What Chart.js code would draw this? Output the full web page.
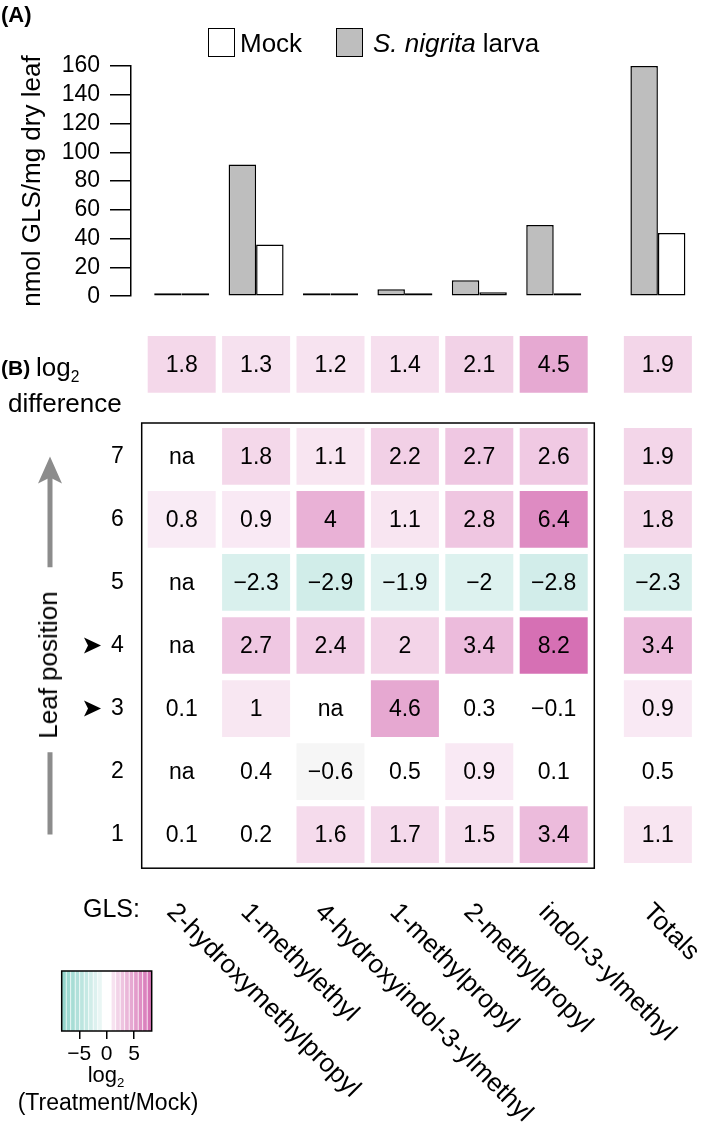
<!DOCTYPE html>
<html lang="en">
<head>
<meta charset="UTF-8">
<title>GLS after S. nigrita feeding</title>
<script src="https://cdn.jsdelivr.net/npm/chart.js"></script>
<style>
    body {
        margin: 0;
        background: #fff;
        font-family: 'Liberation Sans', Arial, Helvetica, sans-serif;
        color: #000;
    }
    #fig { position: relative; width: 709px; height: 1132px; overflow: hidden; }
    canvas { position: absolute; left: 0; }
    .t { position: absolute; white-space: nowrap; line-height: 1; }
    .l { transform: translateY(-50%); }
    .r { transform: translate(-100%, -50%); }
    .c { transform: translate(-50%, -50%); }
    .b { font-weight: bold; }
    .key { position: absolute; width: 25px; height: 27px; border: 1.5px solid #000; }
    .xl { position: absolute; white-space: nowrap; font-size: 26px; line-height: 26px;
          transform-origin: 0 50%; transform: rotate(45deg); }
    sub { font-size: 60%; line-height: 0; }
</style>
</head>
<body>
<div id="fig">
    <canvas id="bars" width="709" height="320" style="top:0"></canvas>
    <canvas id="heat" width="709" height="580" style="top:320px"></canvas>
    <canvas id="scale" width="200" height="121" style="top:950px"></canvas>

    <div class="t l b" style="left:1px; top:15px; font-size:22px">(A)</div>
    <div class="key" style="left:208px; top:28px; background:#fff"></div>
    <div class="t l" style="left:240px; top:43px; font-size:26px">Mock</div>
    <div class="key" style="left:336px; top:28px; background:#bebebe"></div>
    <div class="t l" style="left:373px; top:43px; font-size:26px"><i>S. nigrita</i> larva</div>

    <div class="t l b" style="left:1px; top:367px; font-size:21px">(B)</div>
    <div class="t l" style="left:36px; top:367px; font-size:26px">log<sub>2</sub></div>
    <div class="t l" style="left:8px; top:403px; font-size:26px">difference</div>

    <div class="t" style="left:48px; top:665px; font-size:26px; transform: translate(-50%,-50%) rotate(-90deg)">Leaf position</div>
    <div class="t r" style="left:140px; top:908px; font-size:25px">GLS:</div>

    <div class="t c" style="left:106px; top:1075px; font-size:22px">log<sub>2</sub></div>
    <div class="t c" style="left:108px; top:1102px; font-size:23px">(Treatment/Mock)</div>
</div>

<script>
    // glucosinolate columns
    var glsNames = ['2-hydroxymethylpropyl', '1-methylethyl', '4-hydroxyindol-3-ylmethyl',
                    '1-methylpropyl', '2-methylpropyl', 'indol-3-ylmethyl'];
    var columnLabels = glsNames.concat(['Totals']);

    // (A) nmol GLS / mg dry leaf
    var larvaGLS = [1.2, 91.5, 1.6, 4.8, 11.1, 49.5, 160];
    var mockGLS  = [0.5, 36, 0.9, 2.0, 2.7, 2.0, 44];

    // (B) log2(treatment/mock), null = na
    var overallLog2 = [1.8, 1.3, 1.2, 1.4, 2.1, 4.5, 1.9];
    var leafPositions = [7, 6, 5, 4, 3, 2, 1];
    var leafLog2 = [
        [null, 1.8, 1.1, 2.2, 2.7, 2.6, 1.9],
        [0.8, 0.9, 4, 1.1, 2.8, 6.4, 1.8],
        [null, -2.3, -2.9, -1.9, -2, -2.8, -2.3],
        [null, 2.7, 2.4, 2, 3.4, 8.2, 3.4],
        [0.1, 1, null, 4.6, 0.3, -0.1, 0.9],
        [null, 0.4, -0.6, 0.5, 0.9, 0.1, 0.5],
        [0.1, 0.2, 1.6, 1.7, 1.5, 3.4, 1.1]
    ];
    var markedLeaves = [4, 3];
    var scaleTicks = [-5, 0, 5];

    // layout: Totals column sits apart, overall row sits above the frame
    var colPos = [0, 1, 2, 3, 4, 5, 6.4];
    var overallRow = 8.46;
    var absMax = 8.2;

    Chart.defaults.font.family = "'Liberation Sans', Arial, Helvetica, sans-serif";
    Chart.defaults.color = '#000';

    var posEnd = [214, 112, 180], negEnd = [143, 211, 202];
    function heatColor(v) {
        if (v === null || v === undefined) return 'rgba(0,0,0,0)';
        if (Math.abs(v) < 0.55) return '#ffffff';
        if (v < 0 && v > -1) return '#f6f6f6';
        var t = Math.pow(Math.min(Math.abs(v) / absMax, 1), 0.85);
        var c = v >= 0 ? posEnd : negEnd;
        return 'rgb(' + c.map(function (k) { return Math.round(255 - t * (255 - k)); }).join(',') + ')';
    }
    function fmt(v) {
        if (v === null) return 'na';
        return v < 0 ? '\u2212' + Math.abs(v) : String(v);
    }

    var frame = {
        id: 'frame',
        afterDraw: function (chart) {
            var a = chart.chartArea, ctx = chart.ctx;
            ctx.save();
            ctx.strokeStyle = '#000';
            ctx.lineWidth = 1.5;
            ctx.strokeRect(a.left, a.top, a.right - a.left, a.bottom - a.top);
            ctx.restore();
        }
    };

    // (A) bars
    new Chart(document.getElementById('bars'), {
        type: 'bar',
        data: {
            datasets: [
                { label: 'S. nigrita larva', backgroundColor: '#bebebe',
                  data: larvaGLS.map(function (v, i) { return { x: colPos[i], y: v }; }) },
                { label: 'Mock', backgroundColor: '#fff',
                  data: mockGLS.map(function (v, i) { return { x: colPos[i], y: v }; }) }
            ]
        },
        options: {
            responsive: false,
            animation: false,
            layout: { padding: { left: 0, right: 9, top: 66, bottom: 14 } },
            datasets: { bar: { barThickness: 27.5, borderColor: '#000', borderWidth: 1.5,
                               borderSkipped: false, minBarLength: 3, inflateAmount: 0 } },
            plugins: { legend: { display: false }, tooltip: { enabled: false } },
            scales: {
                x: { type: 'linear', offset: false, min: -0.6815, max: 6.966, display: false },
                y: {
                    min: 0, max: 160,
                    afterFit: function (s) { s.width = 131; },
                    ticks: { stepSize: 20, autoSkip: false, color: '#000', font: { size: 23 }, padding: 10 },
                    grid: { drawOnChartArea: false, drawTicks: true, tickLength: 21, color: '#000', lineWidth: 1.5 },
                    border: { color: '#000', width: 1.5 },
                    title: { display: true, text: 'nmol GLS/mg dry leaf', color: '#000',
                             font: { size: 26 }, padding: { top: 17, bottom: 0 } }
                }
            }
        }
    });

    // (B) heatmap as floating bars
    var cells = [];
    leafPositions.forEach(function (leaf, r) {
        leafLog2[r].forEach(function (v, c) {
            cells.push({ x: colPos[c], y: [leaf - 0.45, leaf + 0.45], v: v });
        });
    });
    overallLog2.forEach(function (v, c) {
        cells.push({ x: colPos[c], y: [overallRow - 0.45, overallRow + 0.45], v: v });
    });

    var cellText = {
        id: 'cellText',
        afterDatasetsDraw: function (chart) {
            var ctx = chart.ctx;
            ctx.save();
            ctx.fillStyle = '#000';
            ctx.font = "23px 'Liberation Sans', Arial, sans-serif";
            ctx.textAlign = 'center';
            ctx.textBaseline = 'middle';
            chart.getDatasetMeta(0).data.forEach(function (el, i) {
                var p = el.getCenterPoint();
                ctx.fillText(fmt(cells[i].v), p.x, p.y + 1);
            });
            ctx.restore();
        }
    };

    var leafArrow = {
        id: 'leafArrow',
        afterDraw: function (chart) {
            var ctx = chart.ctx, ys = chart.scales.y;
            var top = ys.getPixelForValue(7), bottom = ys.getPixelForValue(1);
            var mid = ys.getPixelForValue(3.83);
            var x = 50;
            ctx.save();
            ctx.strokeStyle = '#8c8c8c';
            ctx.fillStyle = '#8c8c8c';
            ctx.lineWidth = 5;
            ctx.beginPath();
            ctx.moveTo(x, top + 20); ctx.lineTo(x, mid - 89);
            ctx.moveTo(x, mid + 96); ctx.lineTo(x, bottom);
            ctx.stroke();
            ctx.beginPath();
            ctx.moveTo(x, top);
            ctx.lineTo(x + 12, top + 27);
            ctx.lineTo(x, top + 21);
            ctx.lineTo(x - 12, top + 27);
            ctx.closePath();
            ctx.fill();
            // leaf markers
            ctx.fillStyle = '#000';
            markedLeaves.forEach(function (leaf) {
                var y = ys.getPixelForValue(leaf);
                ctx.beginPath();
                ctx.moveTo(101, y);
                ctx.lineTo(84, y - 8);
                ctx.lineTo(88, y);
                ctx.lineTo(84, y + 8);
                ctx.closePath();
                ctx.fill();
            });
            ctx.restore();
        }
    };

    var heat = new Chart(document.getElementById('heat'), {
        type: 'bar',
        data: {
            datasets: [{
                label: 'log2 difference',
                data: cells,
                clip: false,
                backgroundColor: function (ctx) { return ctx.raw ? heatColor(ctx.raw.v) : 'rgba(0,0,0,0)'; }
            }]
        },
        options: {
            responsive: false,
            animation: false,
            layout: { padding: { left: 0, right: 114.7, top: 103, bottom: 17.3 } },
            datasets: { bar: { barThickness: 68, borderWidth: 0, inflateAmount: 0 } },
            plugins: { legend: { display: false }, tooltip: { enabled: false } },
            scales: {
                x: { type: 'linear', offset: false, min: -0.5376, max: 5.5457, display: false },
                y: {
                    min: 0.467, max: 7.53,
                    afterFit: function (s) { s.width = 141.7; },
                    afterBuildTicks: function (s) {
                        s.ticks = leafPositions.map(function (v) { return { value: v }; });
                    },
                    ticks: { autoSkip: false, color: '#000', font: { size: 23 }, padding: 18 },
                    grid: { display: false, drawTicks: false },
                    border: { display: false }
                }
            }
        },
        plugins: [cellText, frame, leafArrow]
    });

    // rotated GLS names under the columns
    var fig = document.getElementById('fig');
    columnLabels.forEach(function (name, i) {
        var x = heat.scales.x.getPixelForValue(colPos[i]);
        var d = document.createElement('div');
        d.className = 'xl';
        d.textContent = name;
        d.style.left = (x - 10) + 'px';
        d.style.top = (907 - 13) + 'px';
        fig.appendChild(d);
    });

    // colour key
    var stripes = [];
    for (var k = 0; k < 20; k++) stripes.push(-absMax + (2 * absMax / 20) * (k + 0.5));

    new Chart(document.getElementById('scale'), {
        type: 'bar',
        data: {
            datasets: [{
                data: stripes.map(function (v) { return { x: v, y: [0, 1] }; }),
                backgroundColor: function (ctx) { return ctx.raw ? heatColor(ctx.raw.x) : '#fff'; }
            }]
        },
        options: {
            responsive: false,
            animation: false,
            layout: { padding: { left: 61.7, right: 48.3, top: 21, bottom: 0 } },
            datasets: { bar: { barThickness: 3.7, borderWidth: 0, inflateAmount: 0 } },
            plugins: { legend: { display: false }, tooltip: { enabled: false } },
            scales: {
                x: {
                    type: 'linear', offset: false, min: -absMax, max: absMax,
                    afterFit: function (s) { s.height = 40; },
                    afterBuildTicks: function (s) {
                        s.ticks = scaleTicks.map(function (v) { return { value: v }; });
                    },
                    ticks: { autoSkip: false, maxRotation: 0, color: '#000', font: { size: 21 }, padding: 3,
                             callback: function (v) { return fmt(v); } },
                    grid: { offset: false, drawOnChartArea: false, drawTicks: true, tickLength: 8, color: '#000', lineWidth: 1.5 },
                    border: { display: false }
                },
                y: { min: 0, max: 1, display: false }
            }
        },
        plugins: [frame]
    });
</script>
</body>
</html>
